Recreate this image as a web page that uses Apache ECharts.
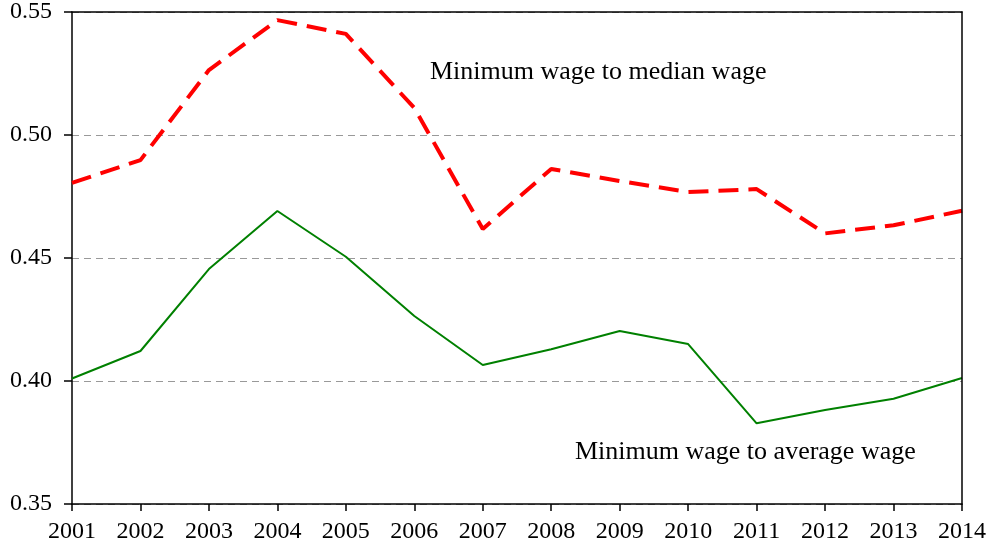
<!DOCTYPE html>
<html>
<head>
<meta charset="utf-8">
<script src="https://cdn.jsdelivr.net/npm/echarts@6/dist/echarts.min.js"></script>
<style>html,body{margin:0;padding:0;background:#fff;}#c{width:990px;height:546px;}</style>
</head>
<body>
<div id="c"></div>
<script>
var years = ['2001','2002','2003','2004','2005','2006','2007','2008','2009','2010','2011','2012','2013','2014'];
var medianRatio = [0.4805,0.4898,0.5264,0.5467,0.5411,0.5110,0.4618,0.4862,0.4813,0.4768,0.4780,0.4600,0.4633,0.4692];
var averageRatio = [0.4010,0.4122,0.4455,0.4691,0.4505,0.4264,0.4065,0.4129,0.4203,0.4150,0.3828,0.3882,0.3928,0.4012];
var yTicks = [0.35,0.40,0.45,0.50,0.55];
var medianLabel = 'Minimum wage to median wage';
var averageLabel = 'Minimum wage to average wage';

var chart = echarts.init(document.getElementById('c'));
var font = '"Liberation Serif", "Times New Roman", serif';
chart.setOption({
  animation: false,
  backgroundColor: '#fff',
  grid: {left: 72, right: 28, top: 12, bottom: 42},
  xAxis: [{
    type: 'category', data: years, boundaryGap: false,
    axisLine: {lineStyle: {color: '#000', width: 1.5}},
    axisTick: {show: true, inside: false, length: 7, lineStyle: {color: '#000', width: 1.5}, alignWithLabel: true},
    axisLabel: {color: '#000', fontFamily: font, fontSize: 24, margin: 16, interval: 0},
    splitLine: {show: false}
  }, {
    type: 'category', data: years, boundaryGap: false, position: 'top', z: 5,
    axisLine: {show: true, lineStyle: {color: '#000', width: 1.5}},
    axisTick: {show: false}, axisLabel: {show: false}, splitLine: {show: false}
  }],
  yAxis: [{
    type: 'value', min: yTicks[0], max: yTicks[yTicks.length-1], interval: 0.05,
    axisLine: {show: true, lineStyle: {color: '#000', width: 1.5}},
    axisTick: {show: true, length: 8, lineStyle: {color: '#000', width: 1.5}},
    axisLabel: {color: '#000', fontFamily: font, fontSize: 24, margin: 20, formatter: function(v){return v.toFixed(2);}},
    splitLine: {show: true, lineStyle: {color: '#999999', type: [7,5], width: 1}}
  }, {
    type: 'value', min: yTicks[0], max: yTicks[yTicks.length-1], interval: 0.05, position: 'right', z: 5,
    axisLine: {show: true, lineStyle: {color: '#000', width: 1.5}},
    axisTick: {show: false}, axisLabel: {show: false}, splitLine: {show: false}
  }],
  series: [
    {type: 'line', name: medianLabel, data: medianRatio, symbol: 'none',
     lineStyle: {color: '#ff0000', width: 4, type: [20,10]}, z: 3},
    {type: 'line', name: averageLabel, data: averageRatio, symbol: 'none',
     lineStyle: {color: '#008000', width: 2}, z: 3}
  ],
  graphic: [
    {type: 'text', left: 430, top: 59, style: {text: medianLabel, font: '26px ' + font, fill: '#000'}},
    {type: 'text', left: 575, top: 439, style: {text: averageLabel, font: '26px ' + font, fill: '#000'}}
  ]
});
</script>
</body>
</html>
